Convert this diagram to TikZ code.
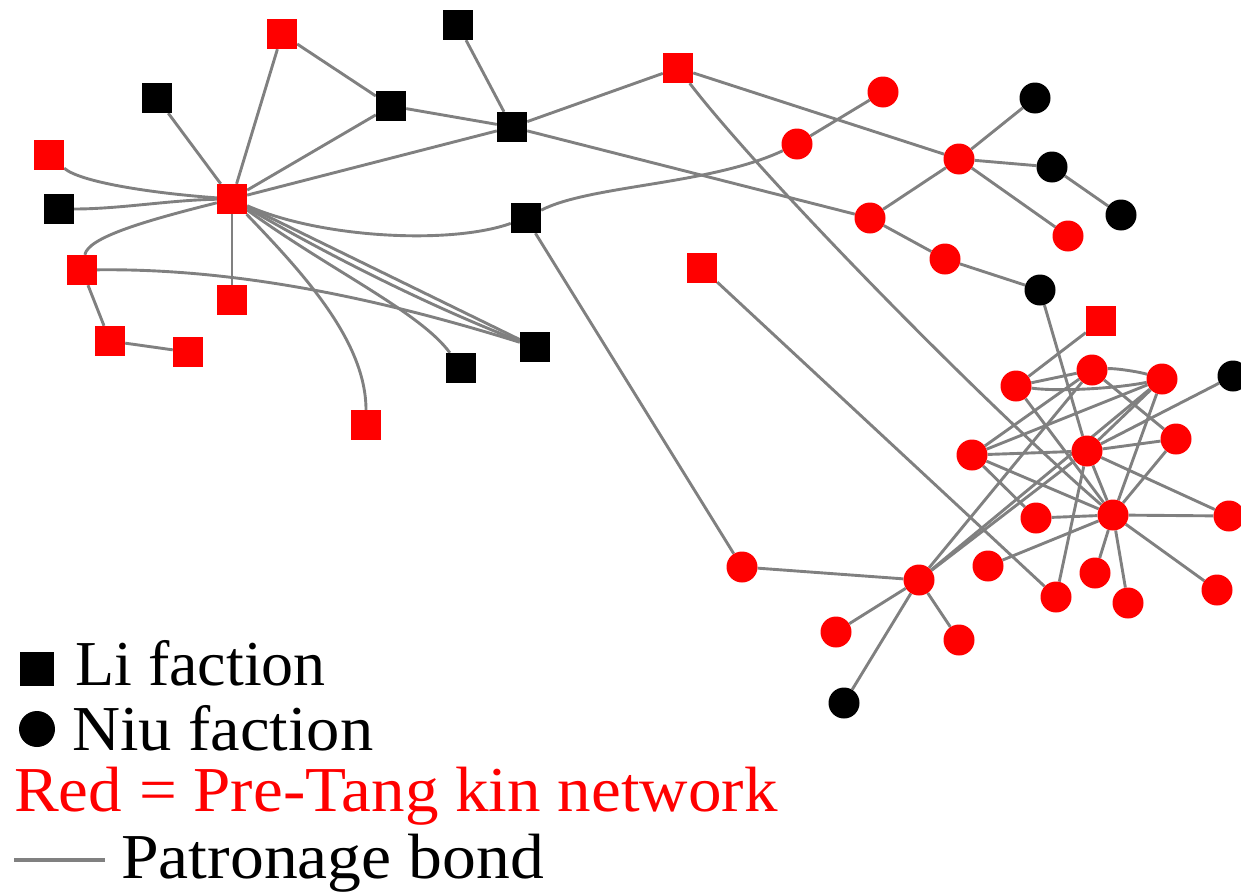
\documentclass[tikz,border=0pt]{standalone}
\usepackage{fontspec}
\setmainfont{Liberation Serif}
\usetikzlibrary{backgrounds}
\begin{document}
\begin{tikzpicture}[x=1pt,y=-1pt,
  sq/.style={rectangle, minimum size=30pt, inner sep=0pt},
  ci/.style={circle, minimum size=31pt, inner sep=0pt},
  rs/.style={sq, fill=red}, bs/.style={sq, fill=black},
  rc/.style={ci, fill=red}, bc/.style={ci, fill=black},
  bond/.style={draw=gray, line width=2.9pt},
  lbl/.style={anchor=base west, inner sep=0pt, font=\fontsize{64}{70}\selectfont}]
\useasboundingbox (0,0) rectangle (1241,894);
% squares
\node[rs] (A) at (282,34) {};
\node[bs] (B) at (458,25) {};
\node[bs] (C) at (157,98) {};
\node[bs] (D) at (391,106) {};
\node[bs] (E) at (512,127) {};
\node[rs] (F) at (678,68) {};
\node[rs] (G) at (49,155) {};
\node[rs] (H) at (232,199) {};
\node[bs] (I) at (59,209) {};
\node[bs] (J) at (526,218) {};
\node[rs] (K) at (82,270) {};
\node[rs] (L) at (232,300) {};
\node[rs] (M) at (110,341) {};
\node[rs] (N) at (188,352) {};
\node[bs] (O) at (535,347) {};
\node[bs] (P) at (461,368) {};
\node[rs] (Q) at (366,425) {};
\node[rs] (R) at (702,268) {};
\node[rs] (S) at (1101,321) {};
% circles
\node[rc] (c1) at (883,92) {};
\node[rc] (c2) at (797,144) {};
\node[bc] (c3) at (1035,98) {};
\node[rc] (c4) at (959,159) {};
\node[bc] (c5) at (1052,167) {};
\node[bc] (c6) at (1121,215) {};
\node[rc] (c7) at (870,218) {};
\node[rc] (c8) at (1068,236) {};
\node[rc] (c9) at (945,259) {};
\node[bc] (c10) at (1040,290) {};
\node[rc] (d1) at (1016,386) {};
\node[rc] (d2) at (1092,370) {};
\node[rc] (d3) at (1162,379) {};
\node[bc] (d4) at (1233,376) {};
\node[rc] (d5) at (1176,439) {};
\node[rc] (d6) at (972,455) {};
\node[rc] (d7) at (1087,451) {};
\node[rc] (d8) at (1113,515) {};
\node[rc] (d9) at (1036,518) {};
\node[rc] (d10) at (1229,516) {};
\node[rc] (d11) at (988,566) {};
\node[rc] (d12) at (1095,573) {};
\node[rc] (d13) at (1056,597) {};
\node[rc] (d14) at (1128,603) {};
\node[rc] (d15) at (1217,590) {};
\node[rc] (d16) at (919,580) {};
\node[rc] (e1) at (742,567) {};
\node[rc] (e2) at (836,632) {};
\node[rc] (e3) at (959,640) {};
\node[bc] (e4) at (844,703) {};
% legend
\node[bs, minimum size=34pt] (legsq) at (37,669) {};
\node[bc, minimum size=36pt] (legci) at (37,729) {};
\node[lbl] (t1) at (75,685) {Li faction};
\node[lbl] (t2) at (72,750) {\scalebox{1.04}[1]{Niu faction}};
\node[lbl, text=red] (t3) at (14,811) {\scalebox{1.048}[1]{Red = Pre-Tang kin network}};
\node[lbl] (t4) at (121,878) {\scalebox{1.057}[1]{Patronage bond}};
\coordinate (l1) at (14,860);
\coordinate (l2) at (105,860);
\draw[draw=gray, line width=4.5pt] (l1) -- (l2);
\begin{pgfonlayer}{background}
% left cluster
\draw[bond] (H) -- (C);
\draw[bond] (H) -- (A);
\draw[bond] (A) -- (D);
\draw[bond] (H) -- (D);
\draw[bond] (H) -- (E);
\draw[bond] (D) -- (E);
\draw[bond] (B) -- (E);
\draw[bond] (E) -- (F);
\draw[bond] (E) -- (c7);
\draw[bond] (H) -- (L);
\draw[bond] (K) -- (M);
\draw[bond] (M) -- (N);
\draw[bond] (H) -- (O);
\draw[bond] (G) .. controls (80,182) and (150,193) .. (H);
\draw[bond] (I) .. controls (120,209) and (170,200) .. (H);
\draw[bond] (K) .. controls (88,238) and (140,222) .. (H);
\draw[bond] (K) .. controls (250,268) and (400,305) .. (O);
\draw[bond] (H) .. controls (320,238) and (450,245) .. (J);
\draw[bond] (H) .. controls (300,270) and (366,340) .. (Q);
\draw[bond] (H) .. controls (330,270) and (420,312) .. (P);
\draw[bond] (H) .. controls (333,258) and (434,308) .. (O);
\draw[bond] (J) .. controls (590,185) and (710,185) .. (c2);
\draw[bond] (J) -- (e1);
% upper right
\draw[bond] (F) -- (c4);
\draw[bond] (F) .. controls (760,175) and (980,400) .. (d8);
\draw[bond] (c2) -- (c1);
\draw[bond] (c4) -- (c3);
\draw[bond] (c4) -- (c5);
\draw[bond] (c4) -- (c8);
\draw[bond] (c4) -- (c7);
\draw[bond] (c5) -- (c6);
\draw[bond] (c7) -- (c9);
\draw[bond] (c9) -- (c10);
\draw[bond] (c10) -- (d7);
\draw[bond] (S) -- (d1);
\draw[bond] (d4) -- (d7);
\draw[bond] (R) -- (d13);
% lower
\draw[bond] (e1) -- (d16);
\draw[bond] (d16) -- (e2);
\draw[bond] (d16) -- (e3);
\draw[bond] (d16) -- (e4);
\draw[bond] (d16) -- (d2);
\draw[bond] (d16) -- (d3);
\draw[bond] (d16) -- (d7);
% dense cluster
\draw[bond] (d1) -- (d2);
\draw[bond] (d1) .. controls (1060,392) and (1120,388) .. (d3);
\draw[bond] (d2) .. controls (1115,368) and (1140,372) .. (d3);
\draw[bond] (d1) -- (d8);
\draw[bond] (d6) -- (d2);
\draw[bond] (d6) -- (d3);
\draw[bond] (d6) -- (d7);
\draw[bond] (d6) -- (d9);
\draw[bond] (d6) -- (d8);
\draw[bond] (d7) -- (d8);
\draw[bond] (d7) -- (d13);
\draw[bond] (d7) -- (d10);
\draw[bond] (d7) -- (d5);
\draw[bond] (d7) -- (d3);
\draw[bond] (d5) -- (d8);
\draw[bond] (d2) -- (d5);
\draw[bond] (d8) -- (d9);
\draw[bond] (d8) -- (d10);
\draw[bond] (d8) -- (d11);
\draw[bond] (d8) -- (d12);
\draw[bond] (d8) -- (d14);
\draw[bond] (d8) -- (d15);
\draw[bond] (d8) -- (d3);
\end{pgfonlayer}
\end{tikzpicture}
\end{document}
